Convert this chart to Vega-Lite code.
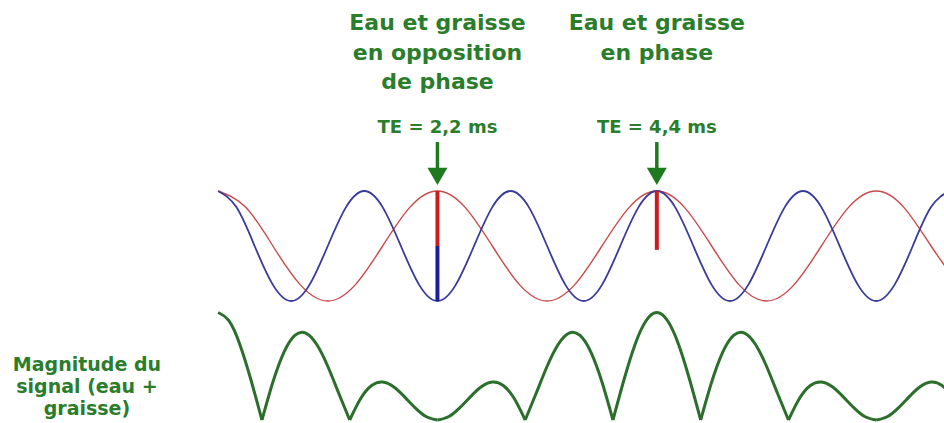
{
  "$schema": "https://vega.github.io/schema/vega-lite/v6.json",
  "padding": 0,
  "background": "white",
  "spacing": 0,
  "config": {"view": {"stroke": null}, "text": {"font": "DejaVu Sans"}},
  "datasets": {
    "red": [
      {"t": 0, "v": 1}, {"t": 0.275, "v": 0.7071}, {"t": 0.55, "v": 0}, {"t": 0.825, "v": -0.7071},
      {"t": 1.1, "v": -1}, {"t": 1.375, "v": -0.7071}, {"t": 1.65, "v": 0}, {"t": 1.925, "v": 0.7071},
      {"t": 2.2, "v": 1}, {"t": 2.475, "v": 0.7071}, {"t": 2.75, "v": 0}, {"t": 3.025, "v": -0.7071},
      {"t": 3.3, "v": -1}, {"t": 3.575, "v": -0.7071}, {"t": 3.85, "v": 0}, {"t": 4.125, "v": 0.7071},
      {"t": 4.4, "v": 1}, {"t": 4.675, "v": 0.7071}, {"t": 4.95, "v": 0}, {"t": 5.225, "v": -0.7071},
      {"t": 5.5, "v": -1}, {"t": 5.775, "v": -0.7071}, {"t": 6.05, "v": 0}, {"t": 6.325, "v": 0.7071},
      {"t": 6.6, "v": 1}, {"t": 6.875, "v": 0.7071}, {"t": 7.15, "v": 0}, {"t": 7.425, "v": -0.7071}
    ],
    "blue": [
      {"t": 0, "v": 1}, {"t": 0.1833, "v": 0.7071}, {"t": 0.3667, "v": 0}, {"t": 0.55, "v": -0.7071},
      {"t": 0.7333, "v": -1}, {"t": 0.9167, "v": -0.7071}, {"t": 1.1, "v": 0}, {"t": 1.2833, "v": 0.7071},
      {"t": 1.4667, "v": 1}, {"t": 1.65, "v": 0.7071}, {"t": 1.8333, "v": 0}, {"t": 2.0167, "v": -0.7071},
      {"t": 2.2, "v": -1}, {"t": 2.3833, "v": -0.7071}, {"t": 2.5667, "v": 0}, {"t": 2.75, "v": 0.7071},
      {"t": 2.9333, "v": 1}, {"t": 3.1167, "v": 0.7071}, {"t": 3.3, "v": 0}, {"t": 3.4833, "v": -0.7071},
      {"t": 3.6667, "v": -1}, {"t": 3.85, "v": -0.7071}, {"t": 4.0333, "v": 0}, {"t": 4.2167, "v": 0.7071},
      {"t": 4.4, "v": 1}, {"t": 4.5833, "v": 0.7071}, {"t": 4.7667, "v": 0}, {"t": 4.95, "v": -0.7071},
      {"t": 5.1333, "v": -1}, {"t": 5.3167, "v": -0.7071}, {"t": 5.5, "v": 0}, {"t": 5.6833, "v": 0.7071},
      {"t": 5.8667, "v": 1}, {"t": 6.05, "v": 0.7071}, {"t": 6.2333, "v": 0}, {"t": 6.4167, "v": -0.7071},
      {"t": 6.6, "v": -1}, {"t": 6.7833, "v": -0.7071}, {"t": 6.9667, "v": 0}, {"t": 7.15, "v": 0.7071},
      {"t": 7.3333, "v": 1}
    ],
    "green": [
      {"h": 0, "t": 0, "v": 2}, {"h": 0, "t": 0.11, "v": 1.842}, {"h": 0, "t": 0.22, "v": 1.397}, {"h": 0, "t": 0.33, "v": 0.744}, {"h": 0, "t": 0.44, "v": 0},
      {"h": 1, "t": 0.44, "v": 0}, {"h": 1, "t": 0.55, "v": 0.707}, {"h": 1, "t": 0.66, "v": 1.26}, {"h": 1, "t": 0.77, "v": 1.575}, {"h": 1, "t": 0.88, "v": 1.618}, {"h": 1, "t": 0.99, "v": 1.405}, {"h": 1, "t": 1.1, "v": 1.0}, {"h": 1, "t": 1.21, "v": 0.497}, {"h": 1, "t": 1.32, "v": 0},
      {"h": 2, "t": 1.32, "v": 0}, {"h": 2, "t": 1.43, "v": 0.4}, {"h": 2, "t": 1.54, "v": 0.642}, {"h": 2, "t": 1.65, "v": 0.707}, {"h": 2, "t": 1.76, "v": 0.618}, {"h": 2, "t": 1.87, "v": 0.431}, {"h": 2, "t": 1.98, "v": 0.221}, {"h": 2, "t": 2.09, "v": 0.06}, {"h": 2, "t": 2.2, "v": 0},
      {"h": 3, "t": 2.2, "v": 0}, {"h": 3, "t": 2.31, "v": 0.06}, {"h": 3, "t": 2.42, "v": 0.221}, {"h": 3, "t": 2.53, "v": 0.431}, {"h": 3, "t": 2.64, "v": 0.618}, {"h": 3, "t": 2.75, "v": 0.707}, {"h": 3, "t": 2.86, "v": 0.642}, {"h": 3, "t": 2.97, "v": 0.4}, {"h": 3, "t": 3.08, "v": 0},
      {"h": 4, "t": 3.08, "v": 0}, {"h": 4, "t": 3.19, "v": 0.497}, {"h": 4, "t": 3.3, "v": 1.0}, {"h": 4, "t": 3.41, "v": 1.405}, {"h": 4, "t": 3.52, "v": 1.618}, {"h": 4, "t": 3.63, "v": 1.575}, {"h": 4, "t": 3.74, "v": 1.26}, {"h": 4, "t": 3.85, "v": 0.707}, {"h": 4, "t": 3.96, "v": 0},
      {"h": 5, "t": 3.96, "v": 0}, {"h": 5, "t": 4.07, "v": 0.744}, {"h": 5, "t": 4.18, "v": 1.397}, {"h": 5, "t": 4.29, "v": 1.842}, {"h": 5, "t": 4.4, "v": 2}, {"h": 5, "t": 4.51, "v": 1.842}, {"h": 5, "t": 4.62, "v": 1.397}, {"h": 5, "t": 4.73, "v": 0.744}, {"h": 5, "t": 4.84, "v": 0},
      {"h": 6, "t": 4.84, "v": 0}, {"h": 6, "t": 4.95, "v": 0.707}, {"h": 6, "t": 5.06, "v": 1.26}, {"h": 6, "t": 5.17, "v": 1.575}, {"h": 6, "t": 5.28, "v": 1.618}, {"h": 6, "t": 5.39, "v": 1.405}, {"h": 6, "t": 5.5, "v": 1.0}, {"h": 6, "t": 5.61, "v": 0.497}, {"h": 6, "t": 5.72, "v": 0},
      {"h": 7, "t": 5.72, "v": 0}, {"h": 7, "t": 5.83, "v": 0.4}, {"h": 7, "t": 5.94, "v": 0.642}, {"h": 7, "t": 6.05, "v": 0.707}, {"h": 7, "t": 6.16, "v": 0.618}, {"h": 7, "t": 6.27, "v": 0.431}, {"h": 7, "t": 6.38, "v": 0.221}, {"h": 7, "t": 6.49, "v": 0.06}, {"h": 7, "t": 6.6, "v": 0},
      {"h": 8, "t": 6.6, "v": 0}, {"h": 8, "t": 6.71, "v": 0.06}, {"h": 8, "t": 6.82, "v": 0.221}, {"h": 8, "t": 6.93, "v": 0.431}, {"h": 8, "t": 7.04, "v": 0.618}, {"h": 8, "t": 7.15, "v": 0.707}, {"h": 8, "t": 7.26, "v": 0.642}, {"h": 8, "t": 7.37, "v": 0.4}, {"h": 8, "t": 7.48, "v": 0}
    ],
    "bars": [
      {"t": 2.2, "v": 1, "v2": 0, "signal": "graisse"},
      {"t": 2.2, "v": 0, "v2": -1, "signal": "eau"},
      {"t": 4.4, "v": 1, "v2": -0.07, "signal": "graisse"}
    ],
    "arrows": [
      {"t": 2.2, "v": 1.89, "v2": 1.33, "vh": 1.267},
      {"t": 4.4, "v": 1.89, "v2": 1.33, "vh": 1.267}
    ],
    "heads": [
      {"t": 2.2, "v": 3.927, "s": "Eau et graisse\nen opposition\nde phase"},
      {"t": 4.4, "v": 3.927, "s": "Eau et graisse\nen phase"}
    ],
    "te": [
      {"t": 2.2, "v": 2.0545, "s": "TE = 2,2 ms"},
      {"t": 4.4, "v": 2.0545, "s": "TE = 4,4 ms"}
    ],
    "mag": [
      {"t": -1.315, "v": 0.917, "s": "Magnitude du\nsignal (eau +\ngraisse)"}
    ]
  },
  "vconcat": [
    {
      "width": 944,
      "height": 306,
      "encoding": {
        "x": {"field": "t", "type": "quantitative", "scale": {"domain": [-2.187, 7.28], "nice": false, "zero": false}, "axis": null},
        "y": {"field": "v", "type": "quantitative", "scale": {"domain": [-1.0909, 4.4727], "nice": false, "zero": false}, "axis": null}
      },
      "layer": [
        {
          "data": {"name": "red"},
          "mark": {"type": "line", "interpolate": "natural", "color": "#c84a4a", "strokeWidth": 1.4, "clip": true},
          "encoding": {}
        },
        {
          "data": {"name": "blue"},
          "mark": {"type": "line", "interpolate": "natural", "color": "#3a3a9c", "strokeWidth": 1.8, "clip": true},
          "encoding": {}
        },
        {
          "data": {"name": "bars"},
          "mark": {"type": "rule", "strokeWidth": 4},
          "encoding": {
            "y2": {"field": "v2"},
            "color": {"field": "signal", "type": "nominal", "scale": {"domain": ["graisse", "eau"], "range": ["#cc1d1d", "#1d1d9a"]}, "legend": null}
          }
        },
        {
          "data": {"name": "arrows"},
          "mark": {"type": "rule", "strokeWidth": 3.5, "color": "#1f7a1f"},
          "encoding": {"y2": {"field": "v2"}}
        },
        {
          "data": {"name": "arrows"},
          "mark": {"type": "point", "shape": "triangle-down", "size": 400, "filled": true, "opacity": 1, "color": "#1f7a1f"},
          "encoding": {"y": {"field": "vh", "type": "quantitative"}}
        },
        {
          "data": {"name": "heads"},
          "mark": {"type": "text", "align": "center", "baseline": "alphabetic", "fontSize": 22, "fontWeight": "bold", "lineHeight": 29.5, "lineBreak": "\n", "color": "#2a7d2a"},
          "encoding": {"text": {"field": "s", "type": "nominal"}}
        },
        {
          "data": {"name": "te"},
          "mark": {"type": "text", "align": "center", "baseline": "alphabetic", "fontSize": 18, "fontWeight": "bold", "color": "#2a7d2a"},
          "encoding": {"text": {"field": "s", "type": "nominal"}}
        }
      ]
    },
    {
      "width": 944,
      "height": 117,
      "encoding": {
        "x": {"field": "t", "type": "quantitative", "scale": {"domain": [-2.187, 7.28], "nice": false, "zero": false}, "axis": null},
        "y": {"field": "v", "type": "quantitative", "scale": {"domain": [-0.0558, 2.1209], "nice": false, "zero": false}, "axis": null}
      },
      "layer": [
        {
          "data": {"name": "green"},
          "mark": {"type": "line", "interpolate": "natural", "color": "#2c6e2c", "strokeWidth": 3, "clip": true},
          "encoding": {"detail": {"field": "h", "type": "nominal"}}
        },
        {
          "data": {"name": "mag"},
          "mark": {"type": "text", "align": "center", "baseline": "alphabetic", "fontSize": 19, "fontWeight": "bold", "lineHeight": 22, "lineBreak": "\n", "color": "#2a7d2a"},
          "encoding": {"text": {"field": "s", "type": "nominal"}}
        }
      ]
    }
  ]
}
